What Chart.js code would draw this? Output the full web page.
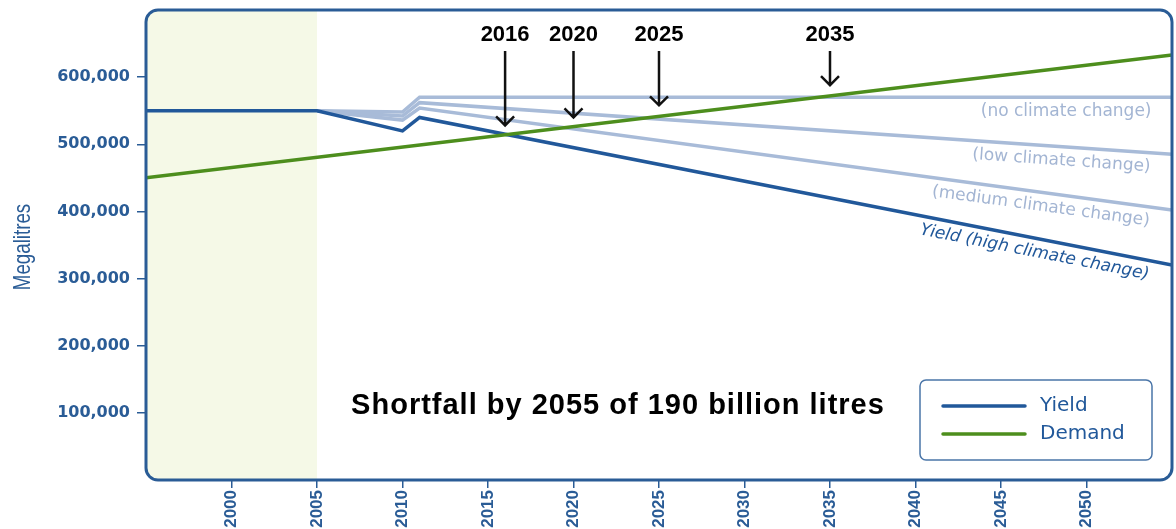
<!DOCTYPE html>
<html>
<head>
<meta charset="utf-8">
<script src="https://cdn.jsdelivr.net/npm/chart.js@4.4.1/dist/chart.umd.min.js"></script>
<style>
  html, body { margin: 0; padding: 0; background: #fff; }
  #wrap { width: 1176px; height: 529px; }
</style>
</head>
<body>
<div id="wrap"><canvas id="c"></canvas></div>
<script>
// yield / demand data (megalitres)
const yieldYears = [1995, 2005, 2010, 2011, 2055];
const yieldHigh = [550000, 550000, 520000, 540000, 320000];
const scenarioYears = [2005, 2010, 2011, 2055];
const yieldNone = [550000, 548000, 570000, 570000];
const yieldLow = [550000, 542000, 562000, 485000];
const yieldMedium = [550000, 536000, 554000, 402000];
const demandYears = [1995, 2055];
const demand = [450000, 633000];

// annotation data
const arrowYears = [2016, 2020, 2025, 2035];
const arrowTips = [528000, 540000, 558000, 588000];
const historyFrom = 1995, historyTo = 2005;
const caption = 'Shortfall by 2055 of 190 billion litres';
const yTitle = 'Megalitres';

const DARK = '#21589a';
const GREEN = '#4d8e1d';
const LIGHT = '#a8bbd8';
const LIGHT_TXT = '#a3b5d3';

const pts = (xs, ys) => xs.map((x, i) => ({x: x, y: ys[i]}));

function roundRect(ctx, x, y, w, h, r) {
  ctx.beginPath();
  ctx.moveTo(x + r, y);
  ctx.arcTo(x + w, y, x + w, y + h, r);
  ctx.arcTo(x + w, y + h, x, y + h, r);
  ctx.arcTo(x, y + h, x, y, r);
  ctx.arcTo(x, y, x + w, y, r);
  ctx.closePath();
}

// value of a dataset at a given year (linear between points)
function valueAt(data, yr) {
  for (let i = 1; i < data.length; i++) {
    if (yr <= data[i].x) {
      const a = data[i - 1], b = data[i];
      return a.y + (b.y - a.y) * (yr - a.x) / (b.x - a.x);
    }
  }
  return data[data.length - 1].y;
}

const decor = {
  id: 'decor',
  beforeDatasetsDraw(chart) {
    const {ctx, chartArea: a, scales: {x}} = chart;
    ctx.save();
    roundRect(ctx, a.left, a.top, a.right - a.left, a.bottom - a.top, 12);
    ctx.clip();
    ctx.fillStyle = '#f5f9e7';
    const x0 = x.getPixelForValue(historyFrom), x1 = x.getPixelForValue(historyTo);
    ctx.fillRect(x0, a.top, x1 - x0, a.bottom - a.top);
    ctx.restore();
  },
  afterDatasetsDraw(chart) {
    const {ctx, chartArea: a, scales: {x, y}} = chart;
    ctx.save();
    // frame
    ctx.strokeStyle = '#2a5c96';
    ctx.lineWidth = 3;
    roundRect(ctx, a.left, a.top, a.right - a.left, a.bottom - a.top, 12);
    ctx.stroke();

    // y axis title, condensed
    ctx.save();
    ctx.translate(23, (a.top + a.bottom) / 2 + 2);
    ctx.rotate(-Math.PI / 2);
    ctx.scale(0.78, 1);
    ctx.fillStyle = '#2a5c96';
    ctx.font = '24px "Liberation Sans", Arial, sans-serif';
    ctx.textAlign = 'center';
    ctx.textBaseline = 'middle';
    ctx.fillText(yTitle, 0, 0);
    ctx.restore();

    // scenario labels under each line, right aligned near the end
    const sets = chart.data.datasets;
    const labelYear = 2053.8;
    sets.forEach(ds => {
      if (!ds.tag) return;
      const px = x.getPixelForValue(labelYear);
      const py = y.getPixelForValue(valueAt(ds.data, labelYear));
      const last = ds.data[ds.data.length - 1], prev = ds.data[ds.data.length - 2];
      const ang = Math.atan2(y.getPixelForValue(last.y) - y.getPixelForValue(prev.y),
                             x.getPixelForValue(last.x) - x.getPixelForValue(prev.x));
      ctx.save();
      ctx.translate(px, py);
      ctx.rotate(ang);
      ctx.fillStyle = ds.tagColor;
      ctx.font = (ds.tagItalic ? 'italic ' : '') + '17px "DejaVu Sans"';
      ctx.textAlign = 'right';
      ctx.textBaseline = 'middle';
      ctx.fillText(ds.tag, 0, 14);
      ctx.restore();
    });

    // year arrows
    ctx.fillStyle = '#000';
    ctx.strokeStyle = '#111';
    ctx.lineWidth = 2.5;
    ctx.font = 'bold 22px "Liberation Sans", Arial, sans-serif';
    ctx.textAlign = 'center';
    ctx.textBaseline = 'middle';
    arrowYears.forEach((yr, i) => {
      const px = x.getPixelForValue(yr);
      const tip = y.getPixelForValue(arrowTips[i]);
      ctx.fillText(String(yr), px, a.top + 25);
      ctx.beginPath();
      ctx.moveTo(px, a.top + 41);
      ctx.lineTo(px, tip);
      ctx.moveTo(px - 9, tip - 9);
      ctx.lineTo(px, tip);
      ctx.lineTo(px + 9, tip - 9);
      ctx.stroke();
    });

    // caption
    ctx.font = 'bold 29px "Liberation Sans", Arial, sans-serif';
    ctx.letterSpacing = '1px';
    ctx.fillText(caption, a.left + 472, a.top + 396);
    ctx.letterSpacing = '0px';

    // legend
    const bw = 232, bh = 80;
    const bx = a.right - 20 - bw, by = a.bottom - 20 - bh;
    ctx.fillStyle = '#fff';
    roundRect(ctx, bx, by, bw, bh, 6);
    ctx.fill();
    ctx.strokeStyle = '#4a75a8';
    ctx.lineWidth = 1.5;
    ctx.stroke();
    const items = [sets[0], sets[4]];
    ctx.font = '20px "DejaVu Sans"';
    ctx.textAlign = 'left';
    items.forEach((ds, i) => {
      const ly = by + 26 + i * 28;
      ctx.strokeStyle = ds.borderColor;
      ctx.lineWidth = 3.5;
      ctx.lineCap = 'round';
      ctx.beginPath();
      ctx.moveTo(bx + 23, ly);
      ctx.lineTo(bx + 105, ly);
      ctx.stroke();
      ctx.fillStyle = DARK;
      ctx.fillText(ds.label, bx + 120, ly);
    });
    ctx.restore();
  }
};

const line = (label, data, color, width, order, extra) => Object.assign({
  label: label, data: data, borderColor: color, borderWidth: width,
  pointRadius: 0, tension: 0, fill: false, order: order
}, extra || {});

new Chart(document.getElementById('c'), {
  type: 'line',
  data: {
    datasets: [
      line('Yield', pts(yieldYears, yieldHigh), DARK, 3.5, 1,
           {tag: 'Yield (high climate change)', tagColor: DARK, tagItalic: true}),
      line('No climate change', pts(scenarioYears, yieldNone), LIGHT, 3.5, 3,
           {tag: '(no climate change)', tagColor: LIGHT_TXT}),
      line('Low climate change', pts(scenarioYears, yieldLow), LIGHT, 3.5, 3,
           {tag: '(low climate change)', tagColor: LIGHT_TXT}),
      line('Medium climate change', pts(scenarioYears, yieldMedium), LIGHT, 3.5, 3,
           {tag: '(medium climate change)', tagColor: LIGHT_TXT}),
      line('Demand', pts(demandYears, demand), GREEN, 3.5, 0)
    ]
  },
  options: {
    responsive: true,
    maintainAspectRatio: false,
    animation: false,
    layout: { padding: { top: 10, right: 4, left: 0, bottom: 0 } },
    plugins: { legend: { display: false }, tooltip: { enabled: false } },
    scales: {
      x: {
        type: 'linear', min: 1995, max: 2055,
        afterBuildTicks: s => { s.ticks = s.ticks.filter(t => t.value > 1995 && t.value < 2055); },
        afterFit: s => { s.height = 49; s.paddingLeft = 0; s.paddingRight = 0; },
        border: { display: false },
        grid: { drawOnChartArea: false, drawTicks: true, tickLength: 8, color: '#2a5c96', lineWidth: 1.5 },
        ticks: {
          stepSize: 5, minRotation: 90, maxRotation: 90, padding: 2,
          color: '#2a5c96', font: { family: '"Liberation Sans"', weight: 'bold', size: 17 },
          callback: v => String(v)
        }
      },
      y: {
        min: 0, max: 700000,
        afterBuildTicks: s => { s.ticks = s.ticks.filter(t => t.value > 0 && t.value < 700000); },
        afterFit: s => { s.width = 146; s.paddingTop = 0; s.paddingBottom = 0; },
        border: { display: false },
        grid: { drawOnChartArea: false, drawTicks: true, tickLength: 9, color: '#2a5c96', lineWidth: 1.5 },
        ticks: {
          stepSize: 100000, padding: 7, color: '#2a5c96',
          font: { family: '"DejaVu Sans"', weight: 'bold', size: 16 },
          callback: v => v.toLocaleString('en-US')
        }
      }
    }
  },
  plugins: [decor]
});
</script>
</body>
</html>
